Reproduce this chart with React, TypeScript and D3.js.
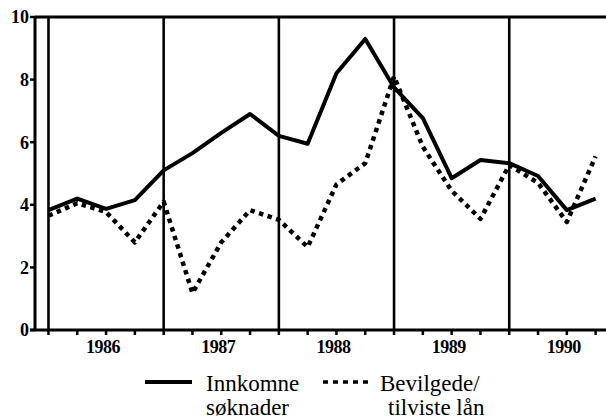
import React from 'react';
import * as d3 from 'd3';

// quarterly points, 1986 Q1 .. 1990 Q4
const quarters = [
  1986.0, 1986.25, 1986.5, 1986.75,
  1987.0, 1987.25, 1987.5, 1987.75,
  1988.0, 1988.25, 1988.5, 1988.75,
  1989.0, 1989.25, 1989.5, 1989.75,
  1990.0, 1990.25, 1990.5, 1990.75,
];
const innkomne = [
  3.83, 4.2, 3.87, 4.15,
  5.1, 5.65, 6.3, 6.9,
  6.2, 5.95, 8.2, 9.3,
  7.75, 6.77, 4.85, 5.43,
  5.33, 4.92, 3.83, 4.2,
];
const bevilgede = [
  3.65, 4.05, 3.77, 2.8,
  4.1, 1.18, 2.8, 3.83,
  3.52, 2.65, 4.65, 5.33,
  8.1, 5.85, 4.45, 3.55,
  5.27, 4.7, 3.45, 5.55,
];
const years = [1986, 1987, 1988, 1989, 1990];
const yTicks = [0, 2, 4, 6, 8, 10];

const W = 606;
const H = 420;
const left = 35;
const top = 17;
const bottom = 330;

const serif = "'Liberation Serif', 'Times New Roman', 'DejaVu Serif', 'Noto Serif', serif";
const tickFont = { fontFamily: serif, fontWeight: 700, fontSize: 18 };
const legFont = { fontFamily: serif, fontWeight: 400, fontSize: 23 };

const App = () => {
  const x = d3.scaleLinear().domain([1985.883, 1990.84]).range([left, W]);
  const y = d3.scaleLinear().domain([0, 10]).range([bottom, top]);

  const line = d3.line<number>()
    .x((d, i) => x(quarters[i]))
    .y((d) => y(d));

  return (
    <div style={{ position: 'fixed', left: 0, top: 0 }}>
      <svg width={W} height={H} style={{ display: 'block', background: '#fff' }}>
        {/* year separators */}
        {years.map((yr) => (
          <line key={'v' + yr} x1={x(yr)} x2={x(yr)} y1={top} y2={bottom}
            stroke="#000" strokeWidth={2.6} />
        ))}

        {/* frame: left axis, top line, bottom axis */}
        <line x1={left} x2={left} y1={top - 1} y2={bottom + 1} stroke="#000" strokeWidth={3} />
        <line x1={left} x2={W} y1={top} y2={top} stroke="#000" strokeWidth={3} />
        <line x1={left - 5} x2={W} y1={bottom} y2={bottom} stroke="#000" strokeWidth={3} />

        {/* y ticks */}
        {yTicks.map((t) => (
          <g key={'y' + t}>
            <line x1={left - 5} x2={left} y1={y(t)} y2={y(t)} stroke="#000" strokeWidth={2.5} />
            <text x={left - 6} y={y(t)} dy="0.36em" textAnchor="end" style={tickFont}>{t}</text>
          </g>
        ))}

        {/* x ticks (quarters) */}
        {quarters.map((q) => (
          <line key={'xt' + q} x1={x(q)} x2={x(q)} y1={bottom} y2={bottom + 5}
            stroke="#000" strokeWidth={2.5} />
        ))}
        {years.map((yr) => (
          <text key={'xl' + yr} x={x(yr + 0.5) - 3} y={353} textAnchor="middle"
            style={{ ...tickFont, letterSpacing: -0.5 }}>{yr}</text>
        ))}

        {/* series */}
        <path d={line(bevilgede) || ''} fill="none" stroke="#000" strokeWidth={4.5}
          strokeDasharray="4.5,4.5" strokeLinejoin="round" />
        <path d={line(innkomne) || ''} fill="none" stroke="#000" strokeWidth={4}
          strokeLinejoin="round" />

        {/* legend */}
        <line x1={145} x2={192} y1={382} y2={382} stroke="#000" strokeWidth={4} />
        <text x={206} y={391} style={legFont}>Innkomne</text>
        <text x={206} y={415} style={legFont}>søknader</text>
        <line x1={323} x2={373} y1={382} y2={382} stroke="#000" strokeWidth={3.5}
          strokeDasharray="5,5" />
        <text x={380} y={391} style={legFont}>Bevilgede/</text>
        <text x={388} y={415} style={legFont}>tilviste lån</text>
      </svg>
    </div>
  );
};

export default App;
